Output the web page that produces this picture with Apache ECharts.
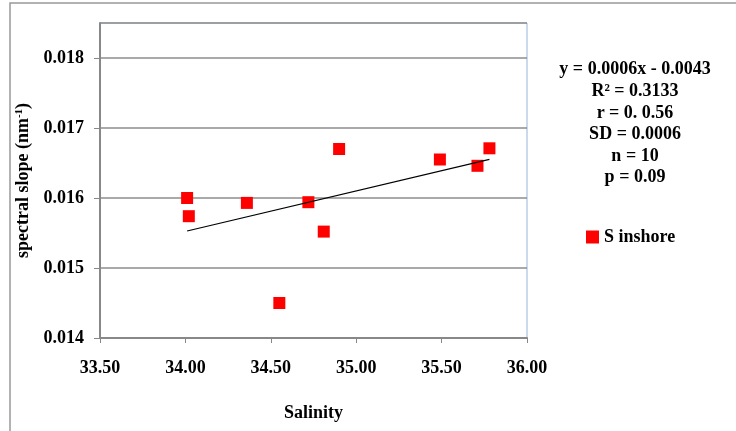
<!DOCTYPE html>
<html>
<head>
<meta charset="utf-8">
<script src="https://cdn.jsdelivr.net/npm/echarts@6/dist/echarts.min.js"></script>
<style>
  html, body { margin: 0; padding: 0; background: #fff; }
  #chart { width: 736px; height: 431px; }
</style>
</head>
<body>
<div id="chart"></div>
<script>
// Salinity vs spectral slope, inshore stations
const salinity = [34.01, 34.02, 34.36, 34.55, 34.72, 34.81, 34.90, 35.49, 35.71, 35.78];
const spectralSlope = [0.01600, 0.01574, 0.01593, 0.01450, 0.01594, 0.01552, 0.01670, 0.01655, 0.01646, 0.01671];
const statLines = [
  'y = 0.0006x - 0.0043',
  'R² = 0.3133',
  'r = 0. 0.56',
  'SD = 0.0006',
  'n = 10',
  'p = 0.09'
];
const seriesName = 'S inshore';

// least-squares trend line over the observed salinity range
const n = salinity.length;
const mx = salinity.reduce((a, b) => a + b, 0) / n;
const my = spectralSlope.reduce((a, b) => a + b, 0) / n;
let sxy = 0, sxx = 0;
for (let i = 0; i < n; i++) {
  sxy += (salinity[i] - mx) * (spectralSlope[i] - my);
  sxx += (salinity[i] - mx) * (salinity[i] - mx);
}
const slope = sxy / sxx;
const intercept = my - slope * mx;
const xLo = Math.min(...salinity), xHi = Math.max(...salinity);
const trend = [[xLo, slope * xLo + intercept], [xHi, slope * xHi + intercept]];

const FONT = '"Liberation Serif", "Times New Roman", serif';
const chart = echarts.init(document.getElementById('chart'));
chart.setOption({
  animation: false,
  backgroundColor: '#fff',
  textStyle: { fontFamily: FONT },
  grid: {
    left: 100, right: 209, top: 23, bottom: 93,
    show: true, borderColor: '#95b3d7', borderWidth: 1
  },
  xAxis: {
    type: 'value', min: 33.5, max: 36, interval: 0.5,
    name: 'Salinity', nameLocation: 'middle', nameGap: 66,
    nameTextStyle: { fontFamily: FONT, fontWeight: 'bold', fontSize: 18, color: '#000' },
    axisLine: { show: true, lineStyle: { color: '#888', width: 2 } },
    axisTick: { show: true, inside: false, length: 5, lineStyle: { color: '#888' } },
    axisLabel: {
      margin: 21, fontFamily: FONT, fontWeight: 'bold', fontSize: 18, color: '#000',
      formatter: v => v.toFixed(2)
    },
    splitLine: { show: false }
  },
  yAxis: {
    type: 'value', min: 0.014, max: 0.0185, interval: 0.001,
    name: '{a|spectral slope (nm}{s|-1}{a|)}', nameLocation: 'middle', nameGap: 58,
    nameTextStyle: {
      rich: {
        a: { fontFamily: FONT, fontWeight: 'bold', fontSize: 18, color: '#000' },
        s: { fontFamily: FONT, fontWeight: 'bold', fontSize: 11, color: '#000', padding: [0, 0, 9, 0] }
      }
    },
    axisLine: { show: true, lineStyle: { color: '#888', width: 2 } },
    axisTick: { show: true, inside: false, length: 6, lineStyle: { color: '#888' } },
    axisLabel: {
      margin: 16, fontFamily: FONT, fontWeight: 'bold', fontSize: 18, color: '#000',
      showMaxLabel: false,
      formatter: v => v.toFixed(3)
    },
    splitLine: { show: true, lineStyle: { color: '#8c8c8c', width: 1.5 } }
  },
  legend: {
    data: [seriesName],
    left: 581, top: 223,
    icon: 'rect', itemWidth: 13, itemHeight: 13, itemGap: 12,
    itemStyle: { opacity: 1 },
    textStyle: { fontFamily: FONT, fontWeight: 'bold', fontSize: 18, color: '#000' }
  },
  graphic: [
    {
      type: 'rect', silent: true,
      shape: { x: 10, y: 3, width: 740, height: 440 },
      style: { fill: 'none', stroke: '#999', lineWidth: 1.5 }
    },
    {
      type: 'text', silent: true, x: 635, y: 59,
      style: {
        text: statLines.join('\n'),
        align: 'center', verticalAlign: 'top',
        font: 'bold 18px ' + FONT, lineHeight: 21.6, fill: '#000'
      }
    }
  ],
  series: [
    {
      name: seriesName, type: 'scatter', symbol: 'rect', symbolSize: 12,
      itemStyle: { color: '#ff0000', opacity: 1 },
      data: salinity.map((x, i) => [x, spectralSlope[i]]), z: 3
    },
    {
      name: 'trend', type: 'line', data: trend, symbol: 'none',
      lineStyle: { color: '#000', width: 1.2 }, z: 4
    }
  ]
});
</script>
</body>
</html>
